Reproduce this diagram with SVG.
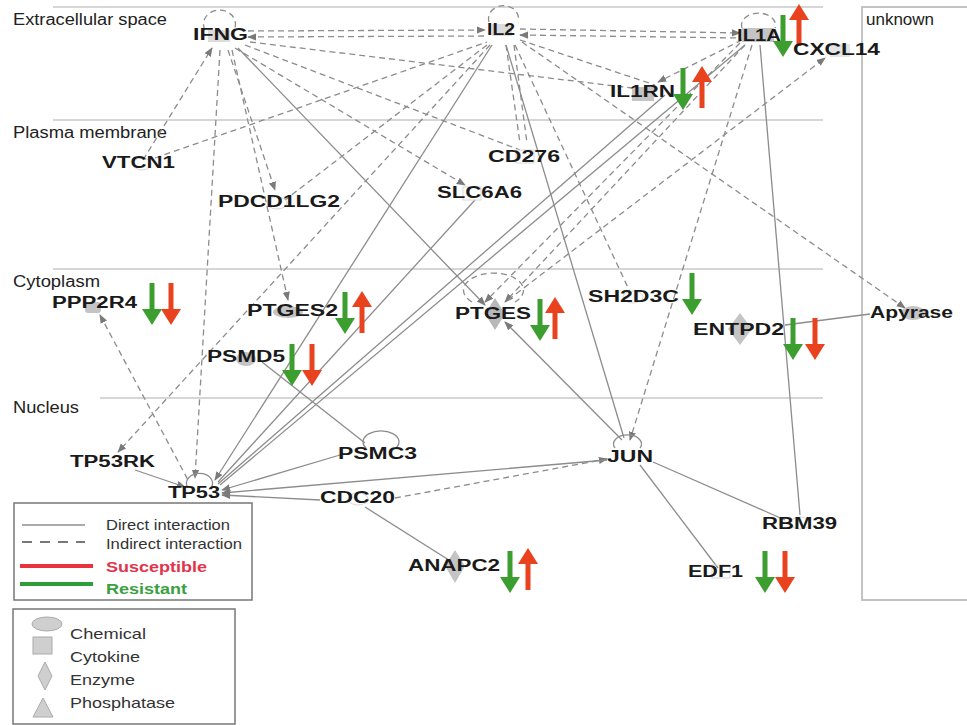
<svg xmlns="http://www.w3.org/2000/svg" width="967" height="725" viewBox="0 0 967 725">
<style>
.bg{fill:#fff}
.comp{stroke:#c8c8c8;stroke-width:1.5;fill:none}
.cl{font-family:"Liberation Sans",Arial,sans-serif;font-size:16px;fill:#222}
.n{font-family:"Liberation Sans",Arial,sans-serif;font-size:16px;font-weight:bold;fill:#1a1a1a}
.e{stroke:#8c8c8c;stroke-width:1.3;fill:none}
.d{stroke:#8c8c8c;stroke-width:1.3;fill:none;stroke-dasharray:6 4}
.sh{fill:#c4c4c4}
.fs{fill:none;stroke:#d8d8d8;stroke-width:1}
.g{fill:#3c9e2e}
.r{fill:#e8421e}
.lg{font-family:"Liberation Sans",Arial,sans-serif;font-size:15px;fill:#333}
</style>
<defs>
<marker id="ah" viewBox="0 0 10 10" refX="9" refY="5" markerWidth="7" markerHeight="7" orient="auto-start-reverse"><path d="M0,1 L10,5 L0,9 Z" fill="#7a7a7a"/></marker>
<path id="down" d="M-2.5,0 H2.5 V26 H10 L0,42 L-10,26 H-2.5 Z"/>
<path id="up" d="M0,0 L10,16 H2.5 V42 H-2.5 V16 H-10 Z"/>
</defs>
<rect class="bg" x="0" y="0" width="967" height="725"/>

<g id="compartments">
<line class="comp" x1="53" y1="7" x2="823" y2="7"/>
<line class="comp" x1="53" y1="120" x2="823" y2="120"/>
<line class="comp" x1="53" y1="269" x2="823" y2="269"/>
<line class="comp" x1="100" y1="398" x2="823" y2="398"/>
<rect x="862" y="7" width="130" height="593" fill="none" stroke="#bdbdbd" stroke-width="1.8"/>
<text class="cl" x="13" y="25" textLength="154" lengthAdjust="spacingAndGlyphs">Extracellular space</text>
<text class="cl" x="13" y="138" textLength="154" lengthAdjust="spacingAndGlyphs">Plasma membrane</text>
<text class="cl" x="13" y="287" textLength="87" lengthAdjust="spacingAndGlyphs">Cytoplasm</text>
<text class="cl" x="13" y="413" textLength="66" lengthAdjust="spacingAndGlyphs">Nucleus</text>
<text class="cl" x="866" y="25" textLength="68" lengthAdjust="spacingAndGlyphs">unknown</text>
</g>

<g id="connectors">
<!-- dashed -->
<line class="d" x1="248" y1="31" x2="485" y2="30" marker-end="url(#ah)"/>
<line class="d" x1="248" y1="37" x2="485" y2="36" marker-start="url(#ah)"/>
<line class="d" x1="520" y1="29" x2="740" y2="33" marker-end="url(#ah)"/>
<line class="d" x1="520" y1="35" x2="740" y2="38" marker-start="url(#ah)"/>
<line class="d" x1="250" y1="42" x2="632" y2="88"/>
<line class="d" x1="245" y1="45" x2="520" y2="150"/>
<line class="d" x1="235" y1="48" x2="465" y2="185" marker-end="url(#ah)"/>
<line class="d" x1="228" y1="50" x2="275" y2="190" marker-end="url(#ah)"/>
<line class="d" x1="232" y1="50" x2="288" y2="300" marker-end="url(#ah)"/>
<line class="d" x1="220" y1="50" x2="195" y2="478" marker-end="url(#ah)"/>
<line class="d" x1="143" y1="160" x2="212" y2="48" marker-end="url(#ah)"/>
<line class="d" x1="155" y1="158" x2="487" y2="42"/>
<line class="d" x1="487" y1="45" x2="285" y2="200"/>
<line class="d" x1="490" y1="45" x2="118" y2="452" marker-end="url(#ah)"/>
<line class="d" x1="506" y1="45" x2="520" y2="143"/>
<line class="d" x1="514" y1="45" x2="527" y2="143"/>
<line class="d" x1="520" y1="40" x2="655" y2="85"/>
<line class="d" x1="522" y1="42" x2="905" y2="308" marker-end="url(#ah)"/>
<line class="d" x1="515" y1="45" x2="630" y2="292"/>
<line class="d" x1="752" y1="45" x2="630" y2="440" marker-end="url(#ah)"/>
<line class="d" x1="745" y1="45" x2="505" y2="302" marker-end="url(#ah)"/>
<line class="d" x1="740" y1="43" x2="485" y2="302" marker-end="url(#ah)"/>
<line class="d" x1="508" y1="300" x2="825" y2="58" marker-end="url(#ah)"/>
<line class="d" x1="742" y1="40" x2="658" y2="82" marker-end="url(#ah)"/>
<line class="d" x1="100" y1="315" x2="188" y2="480" marker-start="url(#ah)"/>
<line class="d" x1="395" y1="498" x2="607" y2="459" marker-end="url(#ah)"/>
<path class="d" d="M205,30 A16,14 0 1,1 234,30"/>
<path class="d" d="M489,22 A15,13 0 1,1 518,22"/>
<path class="d" d="M742,28 A17,12 0 1,1 775,28"/>
<path class="d" d="M472,302 A30,17 0 1,1 515,302"/>
<!-- solid -->
<line class="e" x1="238" y1="48" x2="485" y2="305" marker-end="url(#ah)"/>
<line class="e" x1="492" y1="45" x2="215" y2="480" marker-end="url(#ah)"/>
<line class="e" x1="475" y1="200" x2="218" y2="482"/>
<line class="e" x1="745" y1="45" x2="220" y2="485"/>
<line class="e" x1="665" y1="95" x2="218" y2="484"/>
<line class="e" x1="506" y1="45" x2="624" y2="438"/>
<line class="e" x1="760" y1="45" x2="800" y2="515"/>
<line class="e" x1="622" y1="440" x2="505" y2="322" marker-end="url(#ah)"/>
<line class="e" x1="262" y1="362" x2="365" y2="443"/>
<line class="e" x1="340" y1="455" x2="222" y2="490" marker-end="url(#ah)"/>
<line class="e" x1="607" y1="460" x2="222" y2="493" marker-end="url(#ah)"/>
<line class="e" x1="320" y1="500" x2="222" y2="495" marker-end="url(#ah)"/>
<line class="e" x1="365" y1="507" x2="452" y2="562"/>
<line class="e" x1="640" y1="465" x2="718" y2="568"/>
<line class="e" x1="653" y1="462" x2="785" y2="520"/>
<line class="e" x1="135" y1="470" x2="185" y2="487" marker-end="url(#ah)"/>
<line class="e" x1="785" y1="325" x2="870" y2="314"/>
<path class="e" d="M366,448 A18,11 0 1,1 396,448"/>
<path class="e" d="M615,448 A14,9 0 1,1 640,448"/>
<path class="e" d="M188,488 A13,10 0 1,1 211,488"/>
</g>

<g id="IFNG"><rect class="sh" x="208" y="30" width="22" height="12" opacity="0.6"/><text class="n" x="193" y="40" textLength="55" lengthAdjust="spacingAndGlyphs">IFNG</text></g>
<g id="IL2"><rect class="sh" x="492" y="24" width="20" height="12" opacity="0.6"/><text class="n" x="487" y="35" textLength="28" lengthAdjust="spacingAndGlyphs">IL2</text></g>
<g id="IL1A"><rect class="sh" x="742" y="28" width="32" height="14"/><text class="n" x="737" y="41" textLength="44" lengthAdjust="spacingAndGlyphs">IL1A</text>
<use href="#down" class="g" x="783" y="15"/><use href="#up" class="r" x="799" y="4"/></g>
<g id="CXCL14"><rect x="830" y="44" width="20" height="13" fill="#e4e4e4"/><text class="n" x="793" y="55" textLength="87" lengthAdjust="spacingAndGlyphs">CXCL14</text></g>
<g id="IL1RN"><rect class="sh" x="632" y="87" width="22" height="14"/><text class="n" x="610" y="97" textLength="65" lengthAdjust="spacingAndGlyphs">IL1RN</text>
<use href="#down" class="g" x="683" y="68"/><use href="#up" class="r" x="702" y="66"/></g>
<g id="VTCN1"><ellipse class="fs" cx="142" cy="164" rx="9" ry="6"/><text class="n" x="102" y="168" textLength="73" lengthAdjust="spacingAndGlyphs">VTCN1</text></g>
<g id="PDCD1LG2"><ellipse class="fs" cx="277" cy="203" rx="10" ry="6"/><text class="n" x="218" y="207" textLength="122" lengthAdjust="spacingAndGlyphs">PDCD1LG2</text></g>
<g id="SLC6A6"><rect class="fs" x="463" y="187" width="18" height="13"/><text class="n" x="437" y="198" textLength="85" lengthAdjust="spacingAndGlyphs">SLC6A6</text></g>
<g id="CD276"><rect class="fs" x="516" y="150" width="18" height="13"/><text class="n" x="488" y="162" textLength="72" lengthAdjust="spacingAndGlyphs">CD276</text></g>
<g id="PPP2R4"><rect class="sh" x="85" y="302" width="16" height="11" rx="3"/><text class="n" x="52" y="308" textLength="85" lengthAdjust="spacingAndGlyphs">PPP2R4</text>
<use href="#down" class="g" x="152" y="283"/><use href="#down" class="r" x="171" y="283"/></g>
<g id="PTGES2"><ellipse class="sh" cx="288" cy="312" rx="15" ry="6"/><text class="n" x="247" y="316" textLength="91" lengthAdjust="spacingAndGlyphs">PTGES2</text>
<use href="#down" class="g" x="345" y="292"/><use href="#up" class="r" x="362" y="291"/></g>
<g id="PTGES"><path d="M495,298 L505,314 L495,330 L485,314 Z" fill="#b8b8b8"/><text class="n" x="455" y="319" textLength="76" lengthAdjust="spacingAndGlyphs">PTGES</text>
<use href="#down" class="g" x="540" y="299"/><use href="#up" class="r" x="555" y="297"/></g>
<g id="SH2D3C"><ellipse class="fs" cx="633" cy="297" rx="10" ry="6"/><text class="n" x="588" y="302" textLength="91" lengthAdjust="spacingAndGlyphs">SH2D3C</text>
<use href="#down" class="g" x="692" y="273"/></g>
<g id="ENTPD2"><path d="M740,313 L752,329 L740,345 L728,329 Z" fill="#c4c4c4"/><text class="n" x="693" y="335" textLength="91" lengthAdjust="spacingAndGlyphs">ENTPD2</text>
<use href="#down" class="g" x="793" y="318"/><use href="#down" class="r" x="815" y="318"/></g>
<g id="Apyrase"><ellipse class="sh" cx="913" cy="313" rx="12" ry="7"/><text class="n" x="870" y="318" textLength="83" lengthAdjust="spacingAndGlyphs">Apyrase</text></g>
<g id="PSMD5"><ellipse class="sh" cx="246" cy="359" rx="10" ry="7"/><text class="n" x="207" y="362" textLength="78" lengthAdjust="spacingAndGlyphs">PSMD5</text>
<use href="#down" class="g" x="292" y="344"/><use href="#down" class="r" x="312" y="344"/></g>
<g id="TP53RK"><text class="n" x="70" y="467" textLength="85" lengthAdjust="spacingAndGlyphs">TP53RK</text></g>
<g id="TP53"><text class="n" x="168" y="498" textLength="52" lengthAdjust="spacingAndGlyphs">TP53</text></g>
<g id="PSMC3"><text class="n" x="338" y="459" textLength="79" lengthAdjust="spacingAndGlyphs">PSMC3</text></g>
<g id="CDC20"><ellipse class="fs" cx="358" cy="499" rx="10" ry="6"/><text class="n" x="320" y="503" textLength="75" lengthAdjust="spacingAndGlyphs">CDC20</text></g>
<g id="JUN"><text class="n" x="607" y="462" textLength="46" lengthAdjust="spacingAndGlyphs">JUN</text></g>
<g id="ANAPC2"><path d="M455,550 L465,566 L455,583 L445,566 Z" fill="#c4c4c4"/><text class="n" x="408" y="571" textLength="92" lengthAdjust="spacingAndGlyphs">ANAPC2</text>
<use href="#down" class="g" x="510" y="551"/><use href="#up" class="r" x="528" y="548"/></g>
<g id="RBM39"><ellipse class="fs" cx="800" cy="523" rx="10" ry="6"/><text class="n" x="762" y="529" textLength="75" lengthAdjust="spacingAndGlyphs">RBM39</text></g>
<g id="EDF1"><rect class="fs" x="712" y="565" width="18" height="13"/><text class="n" x="688" y="577" textLength="55" lengthAdjust="spacingAndGlyphs">EDF1</text>
<use href="#down" class="g" x="765" y="551"/><use href="#down" class="r" x="785" y="551"/></g>

<g id="legend">
<rect x="14" y="503" width="238" height="97" fill="#fff" stroke="#777" stroke-width="1.5"/>
<line x1="22" y1="525" x2="85" y2="525" stroke="#aaa" stroke-width="2"/>
<line x1="22" y1="542" x2="85" y2="542" stroke="#777" stroke-width="2" stroke-dasharray="10 8"/>
<line x1="20" y1="566" x2="93" y2="566" stroke="#e8323c" stroke-width="4"/>
<line x1="20" y1="584" x2="93" y2="584" stroke="#2e9e3a" stroke-width="4"/>
<text class="lg" x="106" y="530" textLength="124" lengthAdjust="spacingAndGlyphs">Direct interaction</text>
<text class="lg" x="106" y="549" textLength="136" lengthAdjust="spacingAndGlyphs">Indirect interaction</text>
<text class="lg" x="106" y="572" textLength="101" lengthAdjust="spacingAndGlyphs" style="font-weight:bold;fill:#e0334c">Susceptible</text>
<text class="lg" x="106" y="594" textLength="81" lengthAdjust="spacingAndGlyphs" style="font-weight:bold;fill:#3aa040">Resistant</text>
<rect x="13" y="609" width="222" height="115" fill="#fff" stroke="#777" stroke-width="1.5"/>
<ellipse cx="47" cy="624" rx="15" ry="7" fill="#cfcfcf" stroke="#aaa"/>
<rect x="33" y="637" width="19" height="17" fill="#cfcfcf" stroke="#aaa"/>
<path d="M45,662 L52,676 L45,690 L38,676 Z" fill="#cfcfcf" stroke="#aaa"/>
<path d="M43,698 L53,717 L33,717 Z" fill="#cfcfcf" stroke="#aaa"/>
<text class="lg" x="70" y="639" textLength="76" lengthAdjust="spacingAndGlyphs">Chemical</text>
<text class="lg" x="70" y="662" textLength="70" lengthAdjust="spacingAndGlyphs">Cytokine</text>
<text class="lg" x="70" y="685" textLength="65" lengthAdjust="spacingAndGlyphs">Enzyme</text>
<text class="lg" x="70" y="708" textLength="105" lengthAdjust="spacingAndGlyphs">Phosphatase</text>
</g>
</svg>
